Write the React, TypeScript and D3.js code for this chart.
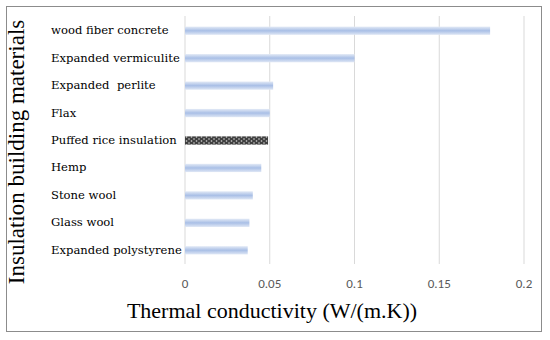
import React, { useEffect, useRef } from 'react';
import * as d3 from 'd3';

const materials = [
  'wood fiber concrete',
  'Expanded vermiculite',
  'Expanded  perlite',
  'Flax',
  'Puffed rice insulation',
  'Hemp',
  'Stone wool',
  'Glass wool',
  'Expanded polystyrene',
];
const conductivity = [0.18, 0.1, 0.052, 0.05, 0.049, 0.045, 0.04, 0.038, 0.037];
const ticks = [0, 0.05, 0.1, 0.15, 0.2];
const highlight = 'Puffed rice insulation';

function App() {
  const ref = useRef<SVGSVGElement>(null);

  useEffect(() => {
    const svg = d3.select(ref.current);
    svg.selectAll('*').remove();

    const defs = svg.append('defs');
    const grad = defs.append('linearGradient')
      .attr('id', 'barGrad')
      .attr('x1', 0).attr('y1', 0).attr('x2', 0).attr('y2', 1);
    grad.append('stop').attr('offset', '0%').attr('stop-color', '#e3eaf6');
    grad.append('stop').attr('offset', '50%').attr('stop-color', '#a9bfe6');
    grad.append('stop').attr('offset', '100%').attr('stop-color', '#dfe7f5');

    const pat = defs.append('pattern')
      .attr('id', 'dots')
      .attr('width', 5).attr('height', 4)
      .attr('patternUnits', 'userSpaceOnUse');
    pat.append('rect').attr('width', 5).attr('height', 4).attr('fill', '#3f3f3f');
    pat.append('circle').attr('cx', 1.5).attr('cy', 1).attr('r', 0.8).attr('fill', '#d8d8d8');
    pat.append('circle').attr('cx', 4).attr('cy', 3).attr('r', 0.8).attr('fill', '#d8d8d8');

    // outer border
    svg.append('rect')
      .attr('x', 6.5).attr('y', 6.5)
      .attr('width', 535).attr('height', 325)
      .attr('fill', 'white')
      .attr('stroke', '#8c8c8c');

    const x = d3.scaleLinear().domain([0, 0.2]).range([185, 524]);
    const y = d3.scaleBand().domain(materials).range([17, 264]).paddingInner(0.7).paddingOuter(0.35);

    const g = svg.append('g');

    g.selectAll('line.grid')
      .data(ticks)
      .enter()
      .append('line')
      .attr('x1', d => x(d)).attr('x2', d => x(d))
      .attr('y1', 16).attr('y2', 264)
      .attr('stroke', '#d9d9d9')
      .attr('stroke-width', 1);

    g.selectAll('text.tick')
      .data(ticks)
      .enter()
      .append('text')
      .attr('x', d => x(d))
      .attr('y', 288)
      .attr('text-anchor', 'middle')
      .attr('font-family', 'Carlito, "Liberation Sans", sans-serif')
      .attr('font-size', 13)
      .attr('fill', '#595959')
      .text(d => String(d));

    g.selectAll('rect.bar')
      .data(materials)
      .enter()
      .append('rect')
      .attr('x', x(0))
      .attr('y', d => y(d)!)
      .attr('width', (d, i) => x(conductivity[i]) - x(0))
      .attr('height', y.bandwidth())
      .attr('fill', d => (d === highlight ? 'url(#dots)' : 'url(#barGrad)'));

    g.selectAll('text.label')
      .data(materials)
      .enter()
      .append('text')
      .attr('x', 51)
      .attr('y', d => y(d)! + y.bandwidth() / 2)
      .attr('dy', '0.3em')
      .attr('font-family', '"DejaVu Serif", serif')
      .attr('font-size', 11.6)
      .attr('fill', '#000')
      .style('white-space', 'pre')
      .text(d => d);

    svg.append('text')
      .attr('transform', 'translate(24,152) rotate(-90)')
      .attr('text-anchor', 'middle')
      .attr('font-family', '"Liberation Serif", serif')
      .attr('font-size', 23)
      .attr('fill', '#000')
      .text('Insulation building materials');

    svg.append('text')
      .attr('x', 272)
      .attr('y', 318)
      .attr('text-anchor', 'middle')
      .attr('font-family', '"Liberation Serif", serif')
      .attr('font-size', 22)
      .attr('fill', '#000')
      .text('Thermal conductivity (W/(m.K))');
  }, []);

  return (
    <svg ref={ref} width={550} height={340} style={{ position: 'absolute', left: 0, top: 0 }}></svg>
  );
}

export default App;
